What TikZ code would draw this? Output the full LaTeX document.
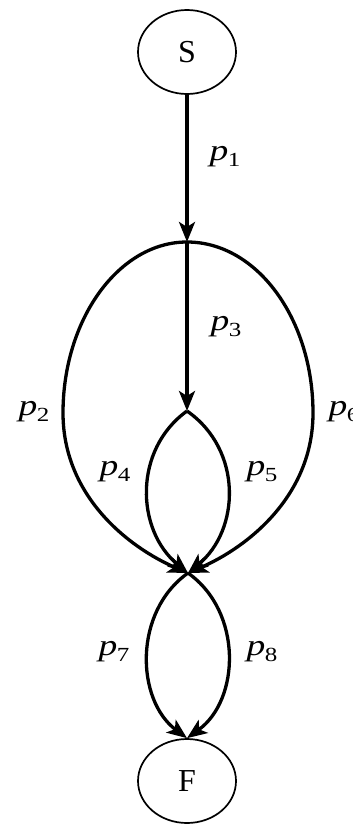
\documentclass[tikz,border=0pt]{standalone}
\usepackage{fontspec}
\setmainfont{Liberation Serif}
\usetikzlibrary{arrows.meta,shapes.geometric}
\newcommand{\plab}[1]{\scalebox{1.25}[1]{\fontsize{30}{30}\selectfont\textit{p}\kern-0.5pt\raisebox{-6pt}{\fontsize{20}{20}\selectfont #1}}}
\begin{document}
\begin{tikzpicture}[x=1pt,y=-1pt,
  el/.style={ellipse,draw,line width=1.7pt,minimum width=98pt,minimum height=84pt,inner sep=0pt,font=\fontsize{32}{32}\selectfont},
  ed/.style={line width=3.3pt,-{Stealth[length=20pt,width=16pt,inset=5pt]}},
  lab/.style={inner sep=0pt}]
\useasboundingbox (0,0) rectangle (353,824);
\node[el] (S) at (187,52) {S};
\node[el] (F) at (187,781) {F};
\coordinate (A) at (187,242);
\coordinate (C) at (187,411);
\coordinate (B) at (188,573);
\coordinate (L) at (63,413);
\coordinate (R) at (313,413);
\draw[ed] (S) -- (A);
\draw[ed] (A) -- (C);
\draw[ed] (A) .. controls (119,242) and (63,319) .. (L) .. controls (63,497) and (130,548) .. (B);
\draw[ed] (A) .. controls (257,242) and (313,319) .. (R) .. controls (313,497) and (246,548) .. (B);
\draw[ed] (C) .. controls (133,450) and (136,530) .. (B);
\draw[ed] (C) .. controls (243,450) and (240,530) .. (B);
\draw[ed] (B) .. controls (133,612) and (136,700) .. (F.north);
\draw[ed] (B) .. controls (243,612) and (240,700) .. (F.north);
\node[lab] (l1) at (225,157) {\plab{1}};
\node[lab] (l3) at (226,327) {\plab{3}};
\node[lab] (l2) at (34,412) {\plab{2}};
\node[lab] (l6) at (344,412) {\plab{6}};
\node[lab] (l4) at (115,472) {\plab{4}};
\node[lab] (l5) at (262,472) {\plab{5}};
\node[lab] (l7) at (114,652) {\plab{7}};
\node[lab] (l8) at (262,652) {\plab{8}};
\end{tikzpicture}
\end{document}
